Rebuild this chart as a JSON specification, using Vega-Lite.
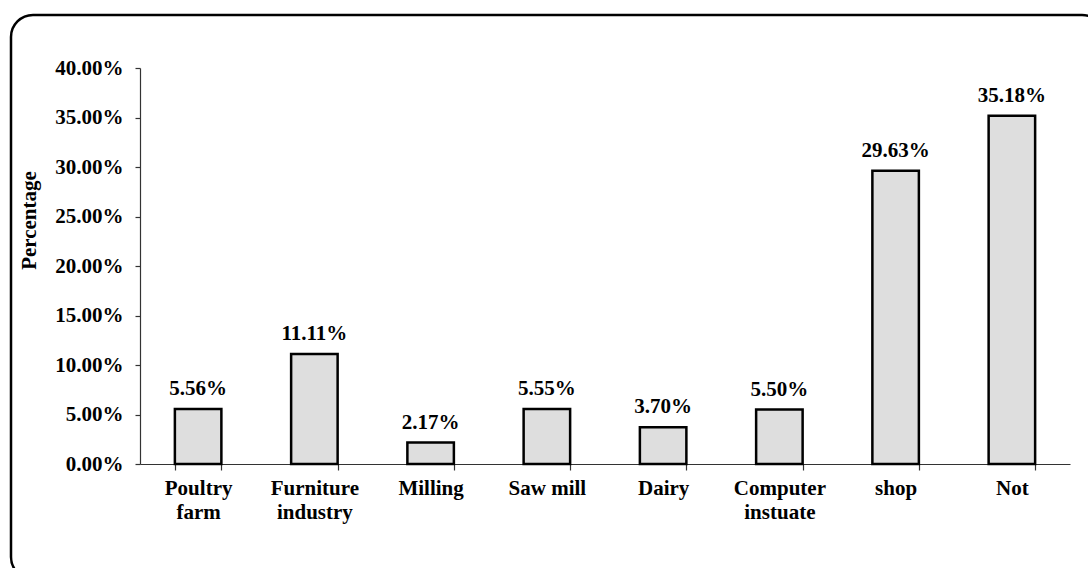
{
  "$schema": "https://vega.github.io/schema/vega-lite/v6.json",
  "width": 930,
  "height": 396,
  "autosize": "none",
  "padding": {"left": 140, "top": 68, "right": 18, "bottom": 104},
  "background": "white",
  "config": {
    "view": {"stroke": null},
    "font": "Liberation Serif",
    "axis": {
      "labelFont": "Liberation Serif",
      "labelFontWeight": "bold",
      "labelColor": "black",
      "titleFont": "Liberation Serif",
      "titleFontWeight": "bold",
      "titleColor": "black",
      "domainColor": "#333333",
      "tickColor": "#333333",
      "domainWidth": 1.2,
      "tickWidth": 1.2,
      "grid": false
    }
  },
  "data": {
    "values": [
      {"category": "Poultry farm", "value": 0.0556},
      {"category": "Furniture industry", "value": 0.1111},
      {"category": "Milling", "value": 0.0217},
      {"category": "Saw mill", "value": 0.0555},
      {"category": "Dairy", "value": 0.0370},
      {"category": "Computer instuate", "value": 0.0550},
      {"category": "shop", "value": 0.2963},
      {"category": "Not", "value": 0.3518}
    ]
  },
  "encoding": {
    "x": {
      "field": "category",
      "type": "nominal",
      "sort": null,
      "scale": {"paddingInner": 0.6, "paddingOuter": 0.3},
      "axis": {
        "title": null,
        "labelAngle": 0,
        "labelFontSize": 21,
        "labelPadding": 7,
        "labelLineHeight": 24,
        "labelBaseline": "top",
        "tickBand": "extent",
        "tickSize": 6,
        "labelExpr": "datum.label == 'Saw mill' ? datum.label : split(datum.label, ' ')"
      }
    },
    "y": {
      "field": "value",
      "type": "quantitative",
      "scale": {"domain": [0, 0.4]},
      "axis": {
        "title": "Percentage",
        "titleFontSize": 21,
        "titleAngle": -90,
        "titleAlign": "center",
        "titleBaseline": "middle",
        "titleX": -111,
        "titleY": 152,
        "format": ".2%",
        "values": [0, 0.05, 0.1, 0.15, 0.2, 0.25, 0.3, 0.35, 0.4],
        "labelFontSize": 21,
        "labelPadding": 12,
        "tickSize": 5
      }
    }
  },
  "layer": [
    {
      "mark": {"type": "bar", "fill": "#dedede", "stroke": "black", "strokeWidth": 2.5}
    },
    {
      "mark": {"type": "text", "fontWeight": "bold", "fontSize": 21, "dy": -14, "baseline": "alphabetic", "color": "black"},
      "encoding": {"text": {"field": "value", "format": ".2%"}}
    },
    {
      "data": {"values": [{}]},
      "mark": {"type": "rect", "fill": null, "stroke": "black", "strokeWidth": 2.5, "cornerRadius": 22},
      "encoding": {
        "x": {"value": -129},
        "x2": {"value": 964},
        "y": {"value": -53},
        "y2": {"value": 511}
      }
    }
  ]
}
